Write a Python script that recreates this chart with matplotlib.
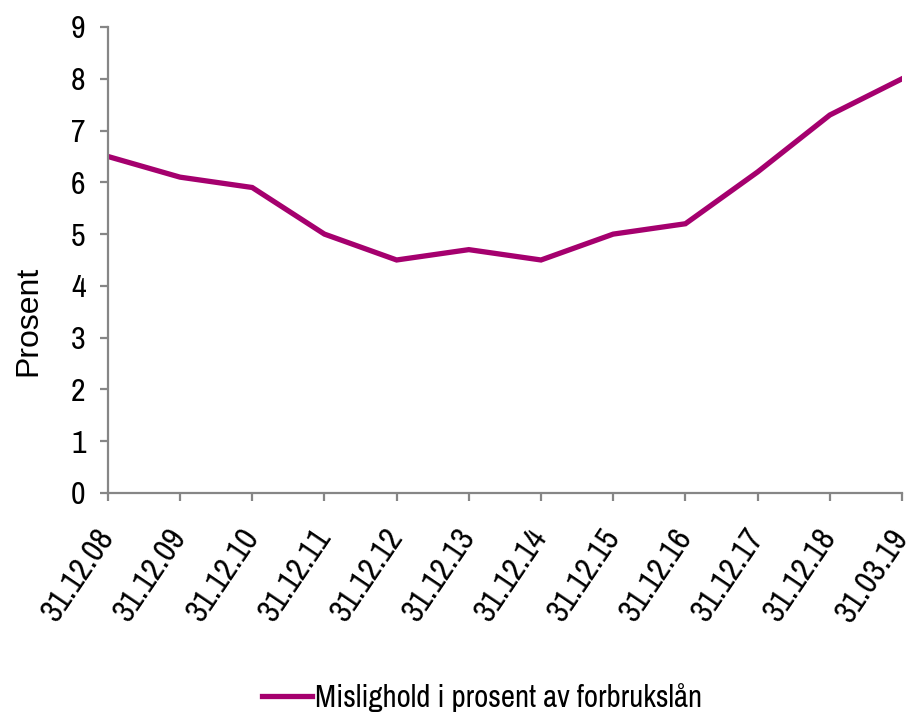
import matplotlib.pyplot as plt

# narrow grotesque close to the reference's squeezed Arial
plt.rcParams['font.family'] = ['Archivo Narrow', 'PT Sans Narrow', 'Liberation Sans', 'DejaVu Sans']

LINE_COLOR = '#A5006E'
AXIS_COLOR = '#868686'

dates = ['31.12.08', '31.12.09', '31.12.10', '31.12.11', '31.12.12', '31.12.13',
         '31.12.14', '31.12.15', '31.12.16', '31.12.17', '31.12.18', '31.03.19']
mislighold = [6.5, 6.1, 5.9, 5.0, 4.5, 4.7, 4.5, 5.0, 5.2, 6.2, 7.3, 8.0]
y_ticks = list(range(0, 10))

fig = plt.figure(figsize=(9.06, 7.18), dpi=100)
ax = fig.add_axes([0.119, 0.3134, 0.8766, 0.649])

x = list(range(len(dates)))
line, = ax.plot(x, mislighold, color=LINE_COLOR, linewidth=3.8,
                solid_joinstyle='miter', label='Mislighold i prosent av forbrukslån')

ax.set_xlim(0, len(dates) - 1)
ax.set_ylim(0, 9)
ax.set_yticks(y_ticks)
ax.set_xticks(x)
ax.set_xticklabels(dates, rotation=56, ha='right', va='center', rotation_mode='anchor')

for side in ['top', 'right']:
    ax.spines[side].set_visible(False)
for side in ['left', 'bottom']:
    ax.spines[side].set_color(AXIS_COLOR)
    ax.spines[side].set_linewidth(1.6)

ax.tick_params(axis='y', direction='out', length=6, width=1.6, color=AXIS_COLOR,
               labelsize=23, pad=10)
ax.tick_params(axis='x', direction='out', length=6, width=1.6, color=AXIS_COLOR,
               labelsize=23.5, pad=22)
# wider face for the rotated axis title, as in the reference
ax.set_ylabel('Prosent', fontsize=23, family=['Liberation Sans', 'DejaVu Sans'])
ax.yaxis.set_label_coords(-0.081, 0.37)

fig.legend(handles=[line], loc='center', bbox_to_anchor=(0.532, 0.029),
           frameon=False, fontsize=22.3, handlelength=1.6, handletextpad=0.1)

plt.savefig('out.png', dpi=100)
